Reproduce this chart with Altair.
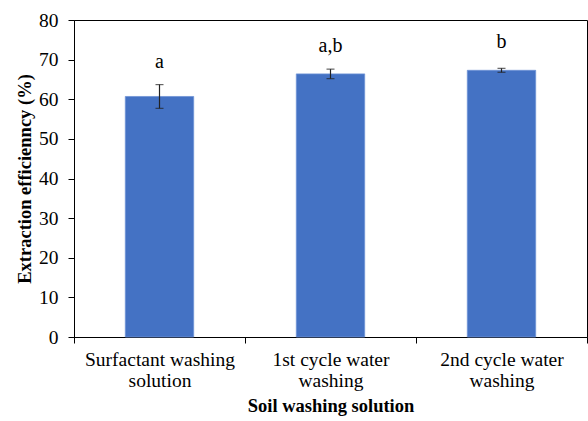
import altair as alt
import pandas as pd

# Extraction efficiency per washing step (mean ± error) with significance letters
categories = ["Surfactant washing|solution", "1st cycle water|washing", "2nd cycle water|washing"]
means = [60.7, 66.4, 67.3]
errors = [3.0, 1.2, 0.5]
letters = ["a", "a,b", "b"]
letter_pos = [69.4, 73.4, 74.4]
y_ticks = [0, 10, 20, 30, 40, 50, 60, 70, 80]

df = pd.DataFrame({
    "cat": categories,
    "mean": means,
    "lo": [m - e for m, e in zip(means, errors)],
    "hi": [m + e for m, e in zip(means, errors)],
    "letter": letters,
    "lpos": letter_pos,
})

FONT = "Liberation Serif"

x_axis = alt.Axis(
    title="Soil washing solution",
    labelExpr="datum.value ? split(datum.value, '|') : ''",
    labelAngle=0,
    labelLineHeight=21,
    labelPadding=7,
    tickBand="extent",
    titlePadding=7,
)
x_scale = alt.Scale(paddingInner=0, paddingOuter=0)

y_axis = alt.Axis(
    title="Extraction efficienncy (%)",
    values=y_ticks,
    grid=False,
    labelOverlap=False,
    labelPadding=10,
    titlePadding=4,
)
y_scale = alt.Scale(domain=[0, 80], nice=False)


def xe():
    return alt.X("cat:N", sort=categories, scale=x_scale, axis=x_axis)


def ye(field):
    return alt.Y(field, type="quantitative", scale=y_scale, axis=y_axis)


bars = alt.Chart(df).mark_bar(
    width=alt.RelativeBandSize(0.4), color="#4472C4", stroke="#6E93D6", strokeWidth=0.8
).encode(x=xe(), y=ye("mean"))

err_line = alt.Chart(df).mark_rule(color="#222222", strokeWidth=1.2).encode(
    x=xe(), y=ye("lo"), y2="hi:Q"
)

cap_lo = alt.Chart(df).mark_tick(color="#222222", size=8, thickness=1.2).encode(
    x=xe(), y=ye("lo")
)
cap_hi = alt.Chart(df).mark_tick(color="#222222", size=8, thickness=1.2).encode(
    x=xe(), y=ye("hi")
)

letter_text = alt.Chart(df).mark_text(
    font=FONT, fontSize=20, color="black", baseline="middle"
).encode(x=xe(), y=ye("lpos"), text="letter:N")

chart = (
    alt.layer(bars, err_line, cap_lo, cap_hi, letter_text)
    .properties(
        width=513,
        height=317,
        autosize=alt.AutoSizeParams(type="none"),
        padding={"left": 74, "top": 20, "right": 1, "bottom": 84},
        background="white",
    )
    .configure_view(stroke="black", strokeWidth=1)
    .configure_axis(
        labelFont=FONT,
        labelFontSize=19.5,
        labelColor="black",
        tickSize=6,
        tickColor="black",
        domainColor="black",
        titleFont=FONT,
        titleFontSize=18.5,
        titleFontWeight="bold",
        titleColor="black",
    )
)

chart.save("out.html", embed_options={"renderer": "svg", "actions": False})
